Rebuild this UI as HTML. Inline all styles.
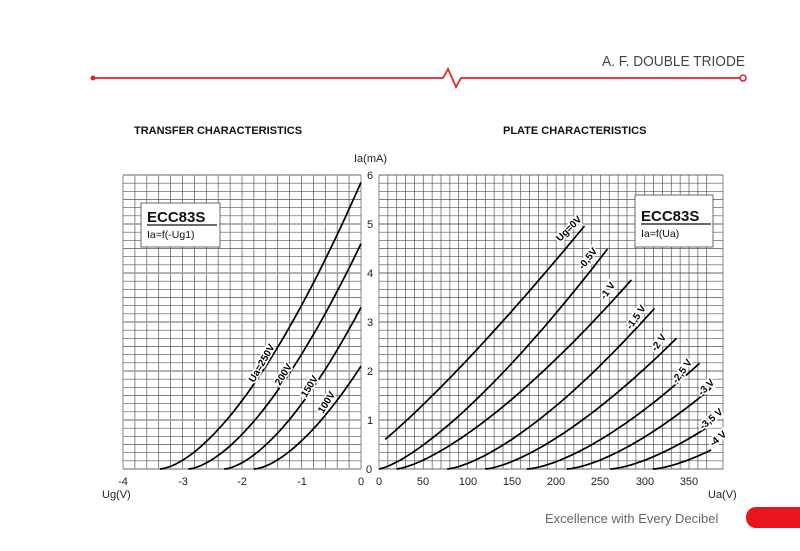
<!DOCTYPE html>
<html><head><meta charset="utf-8"><style>
body{margin:0;background:#fff;width:800px;height:551px;overflow:hidden}
svg{display:block}
text{font-family:"Liberation Sans",Arial,sans-serif}
</style></head><body>
<svg id="s" width="800" height="551" viewBox="0 0 800 551" xmlns="http://www.w3.org/2000/svg">
<rect width="800" height="551" fill="#fff"/>
<text x="745" y="66" text-anchor="end" font-size="15" fill="#444" textLength="143" lengthAdjust="spacingAndGlyphs">A. F. DOUBLE TRIODE</text>
<polyline points="93,78 443,78 448,69 456,87 461,78 743,78" fill="none" stroke="#e0242c" stroke-width="1.8"/>
<circle cx="93" cy="78" r="2.5" fill="#e0242c"/>
<circle cx="743" cy="78" r="3" fill="#fff" stroke="#e0242c" stroke-width="1.6"/>
<text x="134" y="134" font-size="11" font-weight="bold" fill="#111">TRANSFER CHARACTERISTICS</text>
<text x="503" y="134" font-size="11" font-weight="bold" fill="#111">PLATE CHARACTERISTICS</text>
<g id="grid"></g>
<g id="curves" fill="none" stroke="#000" stroke-width="1.7"></g>
<g font-size="11" fill="#222">
<text x="354" y="162">Ia(mA)</text>
<text x="370" y="179" text-anchor="middle">6</text>
<text x="370" y="228" text-anchor="middle">5</text>
<text x="370" y="277" text-anchor="middle">4</text>
<text x="370" y="326" text-anchor="middle">3</text>
<text x="370" y="375" text-anchor="middle">2</text>
<text x="370" y="424" text-anchor="middle">1</text>
<text x="369" y="473" text-anchor="middle">0</text>
<text x="123" y="485" text-anchor="middle">-4</text>
<text x="183" y="485" text-anchor="middle">-3</text>
<text x="242" y="485" text-anchor="middle">-2</text>
<text x="302" y="485" text-anchor="middle">-1</text>
<text x="361" y="485" text-anchor="middle">0</text>
<text x="102" y="498">Ug(V)</text>
<text x="379" y="485" text-anchor="middle">0</text>
<text x="423" y="485" text-anchor="middle">50</text>
<text x="468" y="485" text-anchor="middle">100</text>
<text x="512" y="485" text-anchor="middle">150</text>
<text x="556" y="485" text-anchor="middle">200</text>
<text x="600" y="485" text-anchor="middle">250</text>
<text x="645" y="485" text-anchor="middle">300</text>
<text x="689" y="485" text-anchor="middle">350</text>
<text x="708" y="498">Ua(V)</text>
</g>
<rect x="141" y="203" width="79" height="44" fill="#fff" stroke="#444" stroke-width="0.8"/>
<text x="147" y="222" font-size="15" font-weight="bold" fill="#111">ECC83S</text>
<line x1="147" y1="225" x2="217" y2="225" stroke="#111" stroke-width="1.3"/>
<text x="147" y="238" font-size="10.5" fill="#111">Ia=f(-Ug1)</text>
<rect x="635" y="195" width="78" height="52" fill="#fff" stroke="#444" stroke-width="0.8"/>
<text x="641" y="221" font-size="15" font-weight="bold" fill="#111">ECC83S</text>
<line x1="641" y1="224" x2="711" y2="224" stroke="#111" stroke-width="1.3"/>
<text x="641" y="237" font-size="10.5" fill="#111">Ia=f(Ua)</text>
<g id="labels" font-size="10" font-weight="bold" fill="#000" stroke="#fff" stroke-width="3.5" paint-order="stroke"></g>
<text x="545" y="523" font-size="13" fill="#666">Excellence with Every Decibel</text>
<rect x="746" y="507" width="70" height="21" rx="10" fill="#e8161c"/>
</svg>
<script>
var NS="http://www.w3.org/2000/svg";
function el(p,t,a){var e=document.createElementNS(NS,t);for(var k in a)e.setAttribute(k,a[k]);p.appendChild(e);return e;}
var g=document.getElementById('grid');
var y0=469,ymA=49;
for(var i=0;i<=20;i++){var x=123+i*238/20;el(g,'line',{x1:x,y1:175,x2:x,y2:469,stroke:'#555','stroke-width':0.7});}
for(var j=0;j<=36;j++){var y=469-j*ymA/6;el(g,'line',{x1:123,y1:y,x2:361,y2:y,stroke:j%6==0?'#999':'#555','stroke-width':j%6==0?1.4:0.7});
 el(g,'line',{x1:379,y1:y,x2:723,y2:y,stroke:j%6==0?'#999':'#555','stroke-width':j%6==0?1.4:0.7});}
var sx=(689-379)/350;
for(var i=0;i<=37;i++){var x=379+i*10*sx;el(g,'line',{x1:x,y1:175,x2:x,y2:469,stroke:'#555','stroke-width':0.7});}
el(g,'line',{x1:723,y1:175,x2:723,y2:469,stroke:'#555','stroke-width':0.7});
var c=document.getElementById('curves');
function lx(u){return 361+u*59.5;}
function Y(i){return y0-i*ymA;}
[[-3.38,5.85],[-2.9,4.6],[-2.3,3.3],[-1.8,2.1]].forEach(function(p){
 var pts=[];for(var k=0;k<=40;k++){var u=p[0]+(0-p[0])*k/40;var ia=p[1]*Math.pow((u-p[0])/(-p[0]),1.6);pts.push(lx(u).toFixed(1)+','+Y(ia).toFixed(1));}
 el(c,'polyline',{points:pts.join(' ')});});
function rx(u){return 379+u*sx;}
var P=[[-40,232,4.96,1.2,7],[0,258,4.49,1.35,0],[20,285,3.86,1.4,20],[77,311,3.28,1.45,77],[120,336,2.67,1.45,120],[167,362,2.16,1.5,167],[212,375,1.65,1.5,212],[261,375,0.9,1.5,261],[309,375,0.39,1.5,309]];
P.forEach(function(p){var pts=[];for(var k=0;k<=40;k++){var u=p[4]+(p[1]-p[4])*k/40;var ia=p[2]*Math.pow((u-p[0])/(p[1]-p[0]),p[3]);pts.push(rx(u).toFixed(1)+','+Y(ia).toFixed(1));}
 el(c,'polyline',{points:pts.join(' ')});});
var L=document.getElementById('labels');
function lab(x,y,r,t){var e=el(L,'text',{x:x,y:y,transform:'rotate('+r+' '+x+' '+y+')'});e.textContent=t;}
lab(254,383,-60,'Ua=250V');lab(280,386,-58,'200V');lab(306,398,-58,'150V');lab(323,414,-58,'100V');
lab(560,242,-45,'Ug=0V');lab(583,270,-52,'-0,5V');lab(605,300,-55,'-1 V');lab(631,330,-55,'-1,5 V');lab(656,352,-55,'-2 V');lab(677,384,-55,'-2,5 V');lab(702,396,-45,'-3 V');lab(703,430,-40,'-3,5 V');lab(713,447,-40,'-4 V');
</script>
</body></html>
